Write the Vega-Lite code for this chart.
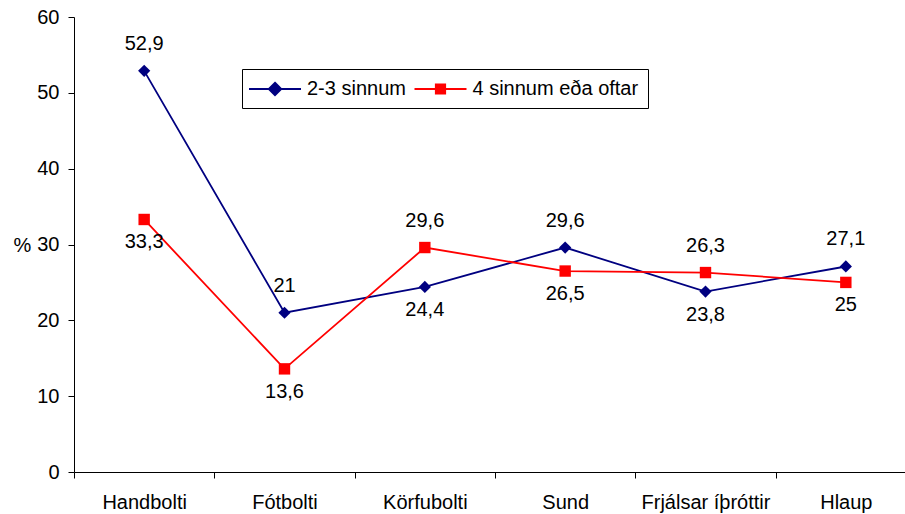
{
  "$schema": "https://vega.github.io/schema/vega-lite/v6.json",
  "width": 831,
  "height": 455,
  "autosize": "none",
  "padding": {"left": 74, "top": 17, "right": 0, "bottom": 42},
  "config": {
    "view": {"stroke": null},
    "font": "Liberation Sans",
    "locale": {"number": {"decimal": ",", "thousands": ".", "grouping": [3], "currency": ["", " kr"]}}
  },
  "data": {
    "values": [
      {"sport": "Handbolti", "series": "2-3 sinnum", "value": 52.9},
      {"sport": "Fótbolti", "series": "2-3 sinnum", "value": 21},
      {"sport": "Körfubolti", "series": "2-3 sinnum", "value": 24.4},
      {"sport": "Sund", "series": "2-3 sinnum", "value": 29.6},
      {"sport": "Frjálsar íþróttir", "series": "2-3 sinnum", "value": 23.8},
      {"sport": "Hlaup", "series": "2-3 sinnum", "value": 27.1},
      {"sport": "Handbolti", "series": "4 sinnum eða oftar", "value": 33.3},
      {"sport": "Fótbolti", "series": "4 sinnum eða oftar", "value": 13.6},
      {"sport": "Körfubolti", "series": "4 sinnum eða oftar", "value": 29.6},
      {"sport": "Sund", "series": "4 sinnum eða oftar", "value": 26.5},
      {"sport": "Frjálsar íþróttir", "series": "4 sinnum eða oftar", "value": 26.3},
      {"sport": "Hlaup", "series": "4 sinnum eða oftar", "value": 25}
    ]
  },
  "encoding": {
    "x": {
      "field": "sport",
      "type": "nominal",
      "sort": ["Handbolti", "Fótbolti", "Körfubolti", "Sund", "Frjálsar íþróttir", "Hlaup"],
      "scale": {"range": [0, 842], "paddingInner": 0, "paddingOuter": 0},
      "axis": {
        "title": null,
        "labelAngle": 0,
        "tickBand": "extent",
        "tickSize": 6,
        "tickColor": "black",
        "domainColor": "black",
        "labelFontSize": 20,
        "labelColor": "black",
        "labelPadding": 14,
        "labelLimit": 300,
        "grid": false
      }
    },
    "y": {
      "field": "value",
      "type": "quantitative",
      "scale": {"domain": [0, 60], "nice": false},
      "axis": {
        "values": [0, 10, 20, 30, 40, 50, 60],
        "grid": false,
        "tickSize": 6,
        "tickColor": "black",
        "domainColor": "black",
        "labelFontSize": 20,
        "labelColor": "black",
        "labelPadding": 9,
        "title": "%",
        "titleAngle": 0,
        "titleX": -52,
        "titleY": 228,
        "titleAlign": "center",
        "titleBaseline": "middle",
        "titleFontSize": 20,
        "titleFontWeight": "normal",
        "titleColor": "black"
      }
    }
  },
  "layer": [
    {
      "mark": {"type": "line", "strokeWidth": 1.8},
      "encoding": {
        "color": {
          "field": "series",
          "type": "nominal",
          "scale": {"domain": ["2-3 sinnum", "4 sinnum eða oftar"], "range": ["#000080", "#FF0000"]},
          "legend": {
            "title": null,
            "orient": "none",
            "legendX": 168,
            "legendY": 52,
            "direction": "horizontal",
            "strokeColor": "black",
            "fillColor": "white",
            "padding": 9,
            "symbolSize": 400,
            "symbolOffset": 13,
            "labelOffset": 21,
            "columnPadding": 4.5,
            "labelFontSize": 20,
            "labelColor": "black",
            "labelLimit": 400,
            "encode": {
              "symbols": {
                "update": {
                  "shape": {"signal": "datum.value === '2-3 sinnum' ? 'M-2.6,0H2.6M0,-0.63L0.63,0L0,0.63L-0.63,0Z' : 'M-2.6,0H2.6M-0.47,-0.47H0.47V0.47H-0.47Z'"},
                  "fill": {"signal": "datum.value === '2-3 sinnum' ? '#000080' : '#FF0000'"},
                  "stroke": {"signal": "datum.value === '2-3 sinnum' ? '#000080' : '#FF0000'"},
                  "strokeWidth": {"value": 1.8},
                  "opacity": {"value": 1}
                }
              }
            }
          }
        }
      }
    },
    {
      "transform": [{"filter": "datum.series === '2-3 sinnum'"}],
      "mark": {"type": "point", "filled": true, "opacity": 1, "size": 150, "shape": "diamond", "color": "#000080"}
    },
    {
      "transform": [{"filter": "datum.series !== '2-3 sinnum'"}],
      "mark": {"type": "point", "filled": true, "opacity": 1, "size": 130, "shape": "square", "color": "#FF0000"}
    },
    {
      "transform": [
        {"joinaggregate": [{"op": "max", "field": "value", "as": "mx"}], "groupby": ["sport"]},
        {"filter": "datum.value === datum.mx"}
      ],
      "mark": {"type": "text", "dy": -27, "baseline": "middle", "align": "center", "fontSize": 20, "color": "black"},
      "encoding": {"text": {"field": "value", "type": "quantitative"}}
    },
    {
      "transform": [
        {"joinaggregate": [{"op": "max", "field": "value", "as": "mx"}], "groupby": ["sport"]},
        {"filter": "datum.value < datum.mx"}
      ],
      "mark": {"type": "text", "dy": 23, "baseline": "middle", "align": "center", "fontSize": 20, "color": "black"},
      "encoding": {"text": {"field": "value", "type": "quantitative"}}
    }
  ]
}
